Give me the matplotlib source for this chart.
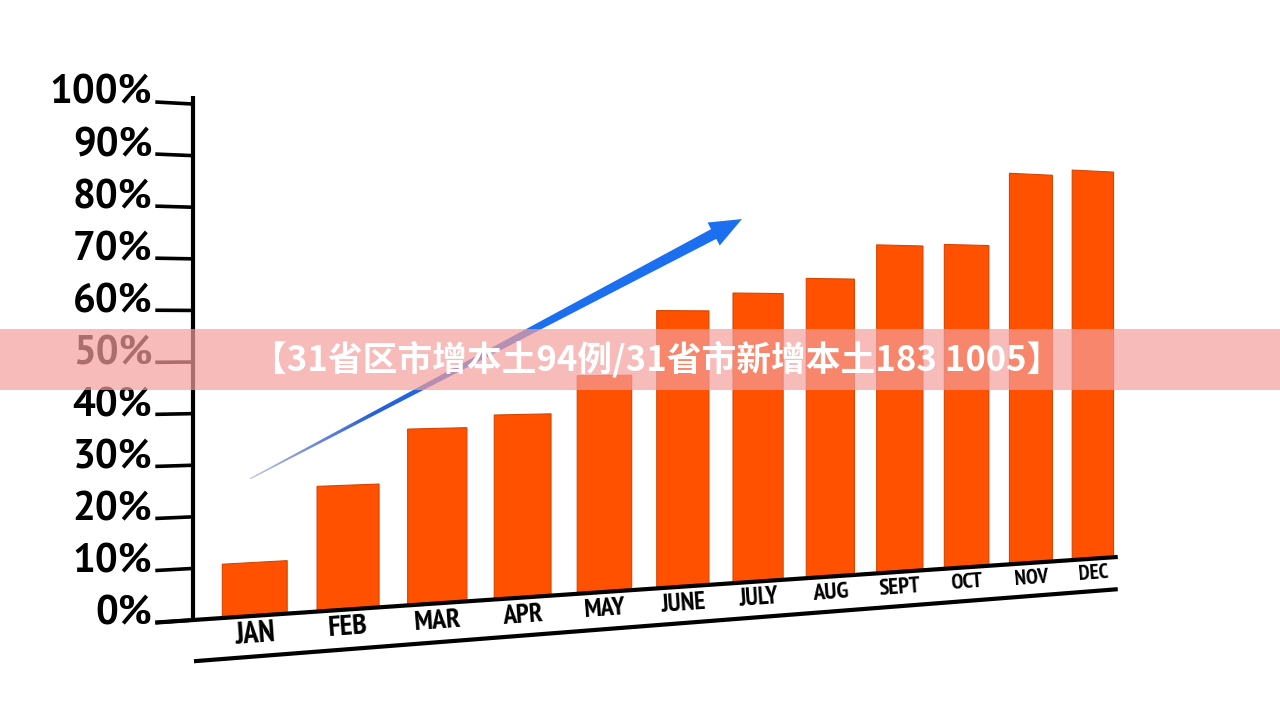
import matplotlib
matplotlib.use('Agg')
import matplotlib.pyplot as plt
import matplotlib.transforms as mtransforms
from matplotlib import font_manager
from matplotlib.patches import Rectangle, Polygon
import numpy as np

# %% data
months = ['JAN', 'FEB', 'MAR', 'APR', 'MAY', 'JUNE', 'JULY', 'AUG', 'SEPT',
          'OCT', 'NOV', 'DEC']
share = [10.5, 25, 36, 38.5, 46.5, 60.5, 64.5, 68, 76, 76.5, 94, 95.5]
ticks = [0, 10, 20, 30, 40, 50, 60, 70, 80, 90, 100]
tick_labels = ['%d%%' % t for t in ticks]
title = '【31省区市增本土94例/31省市新增本土183 1005】'

# %% perspective of the picture: (month index, percent) -> pixel
A, B, G = 101.3, 255.0, 0.02298
C, D, E = 7.643, -5.084, 615.8


class Persp(mtransforms.Transform):
    input_dims = 2
    output_dims = 2

    def transform_non_affine(self, values):
        values = np.asarray(values, dtype=float)
        u, v = values[:, 0], values[:, 1]
        w = G * u + 1
        return np.column_stack([(A * u + B) / w, (C * u + D * v + E) / w])


fams = {f.name for f in font_manager.fontManager.ttflist}


def pick(cands):
    for c in cands:
        if c in fams:
            return c
    return 'Open Sans'


tick_font = pick(['PT Sans'])
month_font = pick(['PT Sans Narrow', 'Fira Sans Condensed',
                   'Roboto Condensed', 'Archivo Narrow',
                   'Liberation Sans Narrow'])
tick_fs = 29 if tick_font != 'Open Sans' else 28
month_fs = 22 if month_font != 'Open Sans' else 19

fig = plt.figure(figsize=(12.8, 7.2), dpi=100)
ax = fig.add_axes([0, 0, 1, 1])
ax.set_xlim(0, 1280)
ax.set_ylim(720, 0)
ax.axis('off')
trans = Persp() + ax.transData

# %% bars
bar_w = 0.68
for i, val in enumerate(share):
    ax.add_patch(Rectangle((i - bar_w / 2, 0), bar_w, val,
                           facecolor='#ff5100', edgecolor='#d84400',
                           lw=0.8, transform=trans, zorder=3))

# %% axes lines
u_axis, u_tick = -0.64, -1.02
u_end = len(months) - 0.59
ax.plot([u_tick, u_end], [0, 0], color='black', lw=3,
        solid_capstyle='butt', transform=trans, zorder=4)
ax.plot([u_axis + 0.01, u_end], [-8, -8], color='black', lw=3,
        solid_capstyle='butt', transform=trans, zorder=4)
ax.plot([u_axis, u_axis], [0, 101.5], color='black', lw=3,
        solid_capstyle='butt', transform=trans, zorder=4)
for t, lab in zip(ticks, tick_labels):
    ax.plot([u_tick, u_axis], [t, t], color='black', lw=2.6,
            solid_capstyle='butt', transform=trans, zorder=4)
    x, y = trans.transform((u_tick - 0.03, t))
    x, y = ax.transData.inverted().transform((x, y))
    ax.text(x, y + 2, lab, ha='right', va='baseline', fontsize=tick_fs,
            family=tick_font, fontweight='bold', color='black', zorder=4)

# %% month labels
for i, m in enumerate(months):
    p1 = trans.transform((i - 0.3, -3.7))
    p2 = trans.transform((i + 0.3, -3.7))
    ang = np.degrees(np.arctan2(p2[1] - p1[1], p2[0] - p1[0]))
    fs = month_fs / (G * i + 1) ** 1.7
    ax.text(i, -3.7, m, transform=trans, ha='center', va='center',
            rotation=ang, rotation_mode='anchor', fontsize=fs,
            family=month_font, fontweight='bold', color='black', zorder=4)

# %% trend arrow
inv = ax.transData.inverted()
tail = inv.transform(trans.transform((-0.05, 27)))
tip = inv.transform(trans.transform((5.78, 81)))
e = (tip - tail) / np.hypot(*(tip - tail))
n = np.array([-e[1], e[0]])
L = np.hypot(*(tip - tail))
base = tip - e * 32
pts = [tail + n * 0.6, base + n * 5.5, base + n * 13, tip,
       base - n * 13, base - n * 5.5, tail - n * 0.6]
arrow = Polygon(pts, closed=True, facecolor='none', edgecolor='none',
                transform=ax.transData)
ax.add_patch(arrow)
xs = np.arange(int(tail[0]) - 20, int(tip[0]) + 20)
ys = np.arange(int(tip[1]) - 20, int(tail[1]) + 20)
XX, YY = np.meshgrid(xs, ys)
tt = ((XX - tail[0]) * e[0] + (YY - tail[1]) * e[1]) / L
tt = np.clip(tt, 0, 1)
img = np.zeros(XX.shape + (4,))
mix = np.clip(tt / 0.45, 0, 1)[..., None]
c0 = np.array([55, 75, 180]) / 255
c1 = np.array([28, 112, 240]) / 255
img[..., :3] = c0 * (1 - mix) + c1 * mix
img[..., 3] = 0.35 + 0.65 * np.clip(tt / 0.25, 0, 1)
im = ax.imshow(img, extent=(xs[0], xs[-1], ys[-1], ys[0]), origin='upper',
               aspect='auto', interpolation='bilinear', zorder=5)
im.set_clip_path(arrow)
ax.set_xlim(0, 1280)
ax.set_ylim(720, 0)

# %% banner
ax.axhspan(329, 390, color=(245 / 255, 158 / 255, 157 / 255), alpha=0.7,
           lw=0, zorder=10)
ax.text(657, 359, title, color='white', fontsize=25, fontweight='bold',
        ha='center', va='center', family=['Noto Sans CJK SC', 'DejaVu Sans'],
        zorder=11)

fig.savefig('out.png', dpi=100, facecolor='white')
